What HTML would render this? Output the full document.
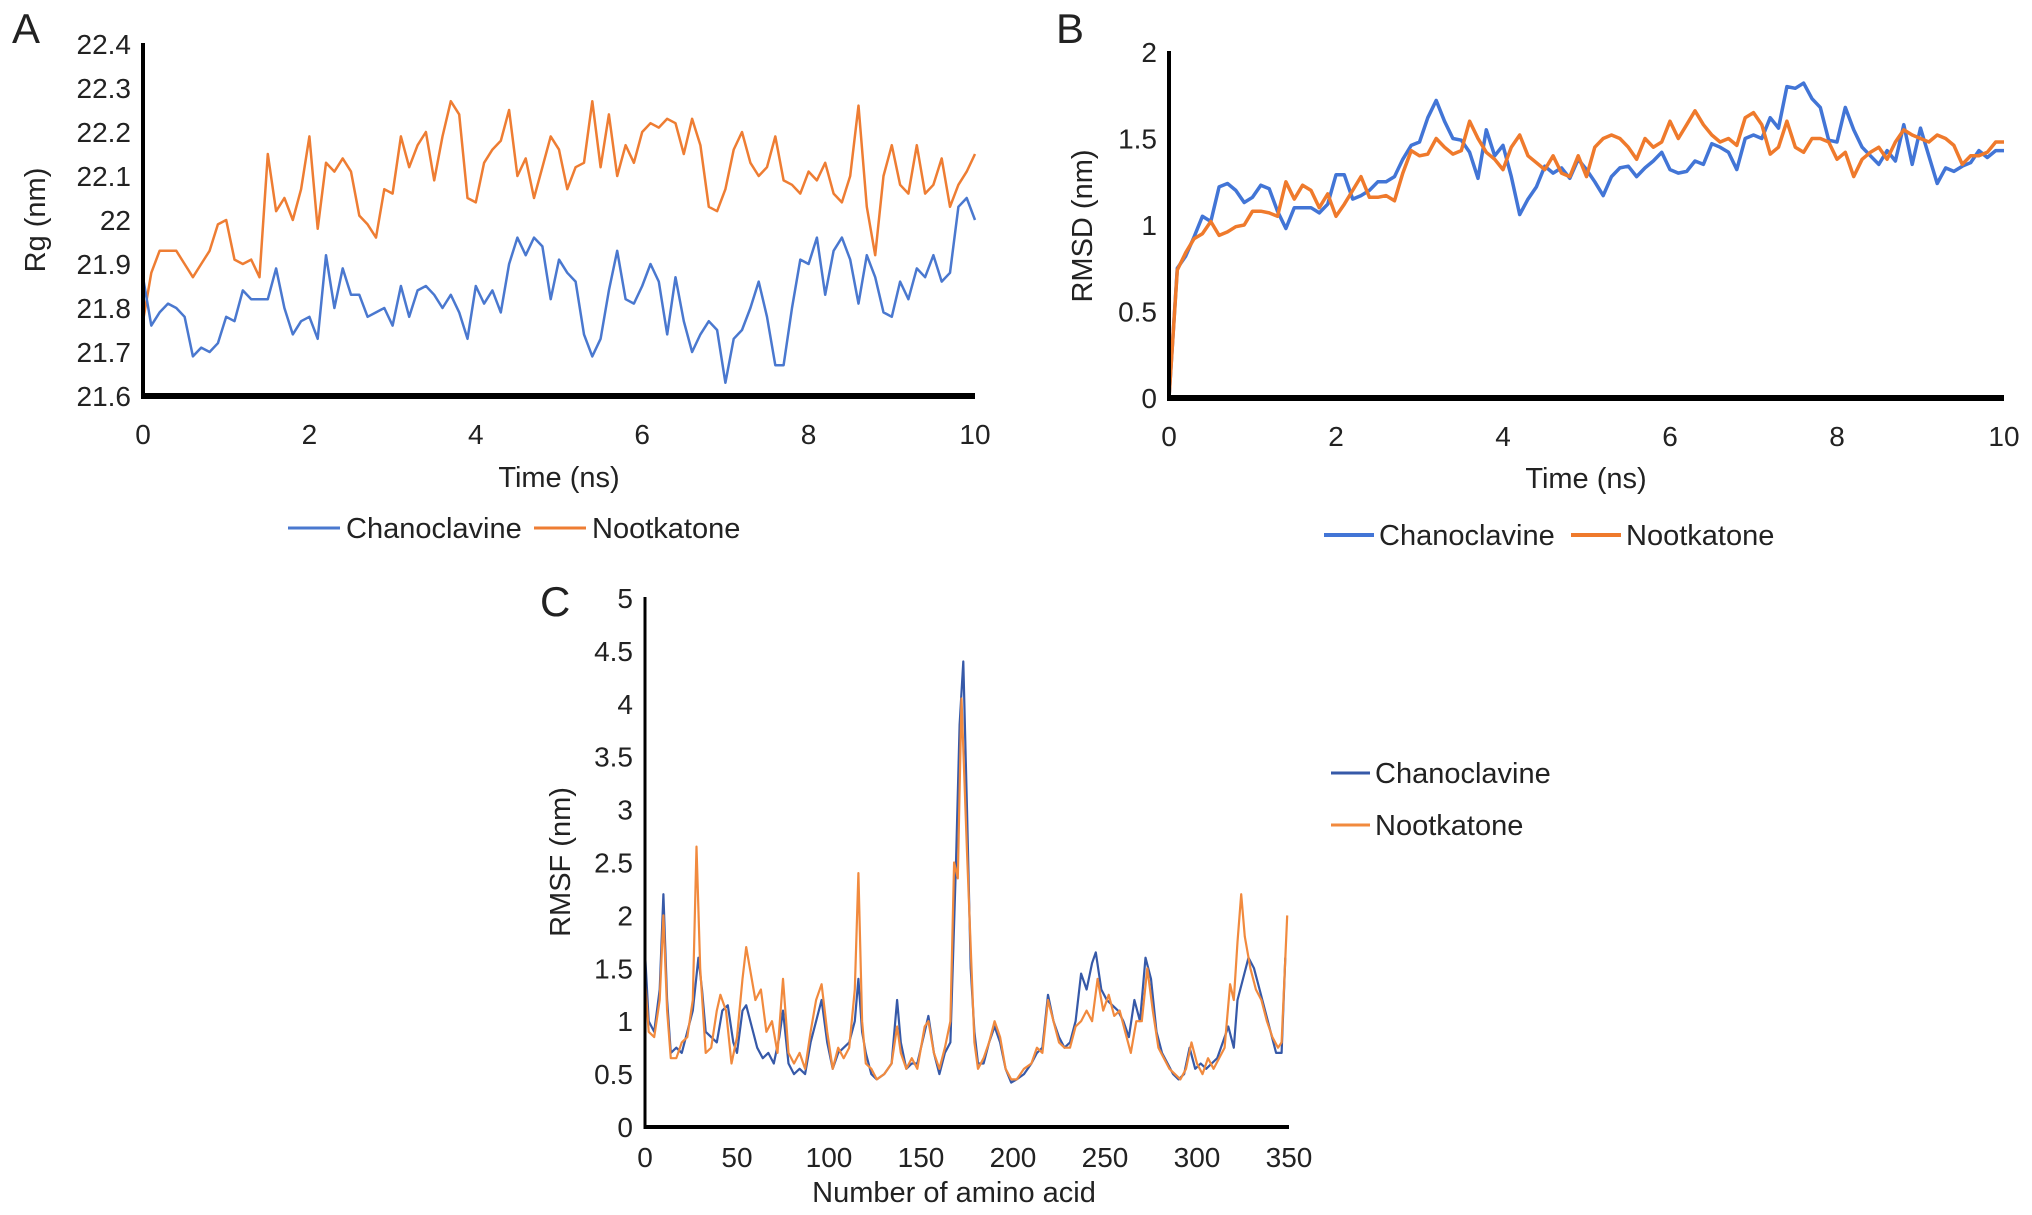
<!DOCTYPE html>
<html><head><meta charset="utf-8"><style>
html,body{margin:0;padding:0;background:#fff;}
svg{display:block;font-family:"Liberation Sans",Arial,sans-serif;}
</style></head><body>
<svg id="fig" width="2032" height="1215" viewBox="0 0 2032 1215" xmlns="http://www.w3.org/2000/svg">
<g id="pA"></g>
<g id="pB"></g>
<g id="pC"></g>
</svg>
<script>
const timeTicks=[0,2,4,6,8,10];
const rgTicks=[21.6,21.7,21.8,21.9,22,22.1,22.2,22.3,22.4];
const rgChano=[21.87,21.76,21.79,21.81,21.80,21.78,21.69,21.71,21.70,21.72,21.78,21.77,21.84,21.82,21.82,21.82,21.89,21.80,21.74,21.77,21.78,21.73,21.92,21.80,21.89,21.83,21.83,21.78,21.79,21.80,21.76,21.85,21.78,21.84,21.85,21.83,21.80,21.83,21.79,21.73,21.85,21.81,21.84,21.79,21.90,21.96,21.92,21.96,21.94,21.82,21.91,21.88,21.86,21.74,21.69,21.73,21.84,21.93,21.82,21.81,21.85,21.90,21.86,21.74,21.87,21.77,21.70,21.74,21.77,21.75,21.63,21.73,21.75,21.80,21.86,21.78,21.67,21.67,21.80,21.91,21.90,21.96,21.83,21.93,21.96,21.91,21.81,21.92,21.87,21.79,21.78,21.86,21.82,21.89,21.87,21.92,21.86,21.88,22.03,22.05,22.00];
const rgNoot=[21.77,21.88,21.93,21.93,21.93,21.90,21.87,21.90,21.93,21.99,22.00,21.91,21.90,21.91,21.87,22.15,22.02,22.05,22.00,22.07,22.19,21.98,22.13,22.11,22.14,22.11,22.01,21.99,21.96,22.07,22.06,22.19,22.12,22.17,22.20,22.09,22.19,22.27,22.24,22.05,22.04,22.13,22.16,22.18,22.25,22.10,22.14,22.05,22.12,22.19,22.16,22.07,22.12,22.13,22.27,22.12,22.24,22.10,22.17,22.13,22.20,22.22,22.21,22.23,22.22,22.15,22.23,22.17,22.03,22.02,22.07,22.16,22.20,22.13,22.10,22.12,22.19,22.09,22.08,22.06,22.11,22.09,22.13,22.06,22.04,22.10,22.26,22.03,21.92,22.10,22.17,22.08,22.06,22.17,22.06,22.08,22.14,22.03,22.08,22.11,22.15];
const rmsdTicks=[0,0.5,1,1.5,2];
const rmsdChano=[0,0.75,0.82,0.93,1.05,1.02,1.22,1.24,1.20,1.13,1.16,1.23,1.21,1.08,0.98,1.10,1.10,1.10,1.07,1.12,1.29,1.29,1.15,1.17,1.20,1.25,1.25,1.28,1.38,1.46,1.48,1.62,1.72,1.60,1.50,1.49,1.42,1.27,1.55,1.40,1.46,1.28,1.06,1.15,1.22,1.34,1.30,1.33,1.27,1.38,1.32,1.25,1.17,1.28,1.33,1.34,1.28,1.33,1.37,1.42,1.32,1.30,1.31,1.37,1.35,1.47,1.45,1.42,1.32,1.50,1.52,1.50,1.62,1.56,1.80,1.79,1.82,1.73,1.68,1.49,1.48,1.68,1.55,1.45,1.40,1.35,1.43,1.37,1.58,1.35,1.56,1.40,1.24,1.33,1.31,1.34,1.36,1.43,1.39,1.43,1.43];
const rmsdNoot=[0,0.74,0.84,0.92,0.95,1.02,0.94,0.96,0.99,1.00,1.08,1.08,1.07,1.05,1.25,1.15,1.23,1.20,1.10,1.18,1.05,1.12,1.20,1.28,1.16,1.16,1.17,1.14,1.30,1.43,1.40,1.41,1.50,1.45,1.41,1.43,1.60,1.50,1.42,1.38,1.32,1.45,1.52,1.40,1.36,1.32,1.40,1.30,1.28,1.40,1.28,1.45,1.50,1.52,1.50,1.45,1.38,1.50,1.45,1.48,1.60,1.50,1.58,1.66,1.58,1.52,1.48,1.50,1.46,1.62,1.65,1.58,1.41,1.45,1.60,1.45,1.42,1.50,1.50,1.48,1.38,1.42,1.28,1.38,1.42,1.45,1.38,1.48,1.55,1.52,1.50,1.48,1.52,1.50,1.46,1.35,1.40,1.40,1.42,1.48,1.48];
const resTicks=[0,50,100,150,200,250,300,350];
const rmsfTicks=[0,0.5,1,1.5,2,2.5,3,3.5,4,4.5,5];
const resChano=[0,2,5,8,10,12,14,17,20,23,26,29,31,33,36,39,42,45,48,50,53,55,58,61,64,67,70,73,75,78,81,84,87,90,93,96,99,102,105,108,111,114,116,118,120,123,126,130,134,137,139,142,145,148,152,154,157,160,163,166,169,171,173,175,177,179,181,184,187,190,193,196,199,202,206,210,213,216,219,222,225,228,231,234,237,240,243,245,248,251,254,257,260,263,266,269,272,275,278,281,284,287,290,293,296,299,302,305,308,311,314,317,320,322,325,328,331,334,337,340,343,346,348];
const rmsfChano=[1.65,1.0,0.9,1.3,2.2,1.2,0.7,0.75,0.7,0.9,1.1,1.6,1.3,0.9,0.85,0.8,1.1,1.15,0.8,0.7,1.1,1.15,0.95,0.75,0.65,0.7,0.6,0.85,1.1,0.6,0.5,0.55,0.5,0.8,1.0,1.2,0.8,0.55,0.7,0.75,0.8,1.0,1.4,0.9,0.7,0.5,0.45,0.5,0.6,1.2,0.8,0.55,0.6,0.6,0.9,1.05,0.7,0.5,0.7,0.8,2.5,3.8,4.4,3.0,1.5,0.9,0.6,0.6,0.8,0.95,0.8,0.55,0.42,0.45,0.5,0.6,0.7,0.75,1.25,1.0,0.85,0.75,0.8,1.0,1.45,1.3,1.55,1.65,1.3,1.2,1.15,1.1,1.0,0.85,1.2,1.0,1.6,1.4,0.9,0.7,0.6,0.5,0.45,0.5,0.75,0.55,0.6,0.55,0.6,0.65,0.8,0.95,0.75,1.2,1.4,1.6,1.5,1.3,1.1,0.9,0.7,0.7,1.6];
const resNoot=[0,2,5,8,10,12,14,17,20,23,26,28,30,33,36,39,41,44,47,50,53,55,57,60,63,66,69,72,75,78,81,84,87,90,93,96,99,102,105,108,111,114,116,118,120,123,126,130,134,137,139,142,145,148,152,154,157,160,163,166,168,170,172,175,177,179,181,184,187,190,193,196,199,202,206,210,213,216,219,222,225,228,231,234,237,240,243,246,249,252,255,258,261,264,267,270,273,276,279,282,285,288,291,294,297,300,303,306,309,312,315,318,320,322,324,326,329,332,335,338,341,344,346,349];
const rmsfNoot=[1.4,0.9,0.85,1.2,2.0,1.1,0.65,0.65,0.8,0.85,1.2,2.65,1.5,0.7,0.75,1.1,1.25,1.1,0.6,0.85,1.4,1.7,1.5,1.2,1.3,0.9,1.0,0.7,1.4,0.7,0.6,0.7,0.55,0.9,1.2,1.35,0.9,0.55,0.75,0.65,0.75,1.3,2.4,1.0,0.6,0.55,0.45,0.5,0.6,0.95,0.7,0.55,0.65,0.55,0.95,1.0,0.7,0.55,0.75,1.0,2.5,2.35,4.05,2.6,1.7,0.8,0.55,0.65,0.8,1.0,0.85,0.55,0.45,0.45,0.55,0.6,0.75,0.7,1.2,1.0,0.8,0.75,0.75,0.95,1.0,1.1,1.0,1.4,1.1,1.25,1.05,1.1,0.9,0.7,1.0,1.0,1.5,1.1,0.75,0.65,0.55,0.5,0.45,0.55,0.8,0.6,0.5,0.65,0.55,0.65,0.75,1.35,1.2,1.75,2.2,1.8,1.5,1.3,1.2,1.0,0.85,0.75,0.8,2.0];

const NS='http://www.w3.org/2000/svg';
function mk(parent,tag,attrs,text){const e=document.createElementNS(NS,tag);for(const k in attrs)e.setAttribute(k,attrs[k]);if(text!==undefined)e.textContent=text;parent.appendChild(e);return e;}
function lin(d0,d1,r0,r1){return v=>r0+(v-d0)/(d1-d0)*(r1-r0);}

function chart(g,cfg){
  const X=lin(cfg.xd[0],cfg.xd[1],cfg.x0,cfg.x1), Y=lin(cfg.yd[0],cfg.yd[1],cfg.y0,cfg.y1);
  cfg.series.forEach(s=>{
    const d=s.y.map((v,i)=>(i?'L':'M')+X(s.x[i]).toFixed(1)+','+Y(v).toFixed(1)).join('');
    const p=mk(g,'path',{d:d,fill:'none',stroke:s.color,'stroke-width':s.w,'stroke-linejoin':'round'});
    
    
  });
  const ya=mk(g,'line',{x1:cfg.x0,y1:cfg.y1-1,x2:cfg.x0,y2:cfg.y0+cfg.bw/2,stroke:'#000','stroke-width':cfg.lw});
  
  
  const xa=mk(g,'line',{x1:cfg.x0-cfg.lw/2,y1:cfg.y0,x2:cfg.x1,y2:cfg.y0,stroke:'#000','stroke-width':cfg.bw});
  
  
  cfg.yt.forEach(v=>{const t=mk(g,'text',{x:cfg.x0-12,y:Y(v)+10,'text-anchor':'end','font-size':cfg.fs,fill:'#222'},String(v));
    
    });
  cfg.xt.forEach(v=>{const t=mk(g,'text',{x:X(v),y:cfg.y0+cfg.xly,'text-anchor':'middle','font-size':cfg.fs,fill:'#222'},String(v));
    
    });
}
function txt(g,name,attrs,s){const t=mk(g,'text',Object.assign({fill:'#222'},attrs),s);return t;}
function legLine(g,name,x1,x2,y,c,w){const l=mk(g,'line',{x1:x1,x2:x2,y1:y,y2:y,stroke:c,'stroke-width':w});}
const tA=rgChano.map((_,i)=>i/10), tB=rmsdChano.map((_,i)=>i/10);
const BLUE='#4a78cf', ORANGE='#ee7d33';

const gA=document.getElementById('pA');
chart(gA,{xd:[0,10],yd:[21.6,22.4],x0:143,x1:975,y0:396,y1:44,lw:4,bw:6,fs:28,xly:48,xt:timeTicks,yt:rgTicks,
 series:[{name:'rg-nootkatone-line',x:tA,y:rgNoot,color:ORANGE,w:2.5},{name:'rg-chanoclavine-line',x:tA,y:rgChano,color:BLUE,w:2.5}]});
txt(gA,'panel-label-a',{x:12,y:43,'font-size':42},'A');
txt(gA,'x-axis-title',{x:559,y:487,'text-anchor':'middle','font-size':29},'Time (ns)');
txt(gA,'y-axis-title',{x:0,y:0,'text-anchor':'middle','font-size':29,transform:'translate(45,220) rotate(-90)'},'Rg (nm)');
legLine(gA,'legend-chanoclavine-swatch',288,340,528,BLUE,3);
txt(gA,'legend-chanoclavine',{x:346,y:538,'font-size':29},'Chanoclavine');
legLine(gA,'legend-nootkatone-swatch',534,586,528,ORANGE,3);
txt(gA,'legend-nootkatone',{x:592,y:538,'font-size':29},'Nootkatone');

const gB=document.getElementById('pB');
chart(gB,{xd:[0,10],yd:[0,2],x0:1169,x1:2004,y0:398,y1:52,lw:4,bw:6,fs:28,xly:48,xt:timeTicks,yt:rmsdTicks,
 series:[{name:'rmsd-chanoclavine-line',x:tB,y:rmsdChano,color:'#4275d6',w:3.5},{name:'rmsd-nootkatone-line',x:tB,y:rmsdNoot,color:'#ef7a2c',w:3.5}]});
txt(gB,'panel-label-b',{x:1056,y:43,'font-size':42},'B');
txt(gB,'x-axis-title',{x:1586,y:488,'text-anchor':'middle','font-size':29},'Time (ns)');
txt(gB,'y-axis-title',{x:0,y:0,'text-anchor':'middle','font-size':29,transform:'translate(1092,226) rotate(-90)'},'RMSD (nm)');
legLine(gB,'legend-chanoclavine-swatch',1324,1374,535,'#4275d6',4);
txt(gB,'legend-chanoclavine',{x:1379,y:545,'font-size':29},'Chanoclavine');
legLine(gB,'legend-nootkatone-swatch',1571,1621,535,'#ef7a2c',4);
txt(gB,'legend-nootkatone',{x:1626,y:545,'font-size':29},'Nootkatone');

const gC=document.getElementById('pC');
chart(gC,{xd:[0,350],yd:[0,5],x0:645,x1:1289,y0:1127,y1:598,lw:3,bw:4,fs:28,xly:40,xt:resTicks,yt:rmsfTicks,
 series:[{name:'rmsf-chanoclavine-line',x:resChano,y:rmsfChano,color:'#3659a8',w:2.2},{name:'rmsf-nootkatone-line',x:resNoot,y:rmsfNoot,color:'#f18a3e',w:2.2}]});
txt(gC,'panel-label-c',{x:540,y:616,'font-size':42},'C');
txt(gC,'x-axis-title',{x:954,y:1202,'text-anchor':'middle','font-size':29},'Number of amino acid');
txt(gC,'y-axis-title',{x:0,y:0,'text-anchor':'middle','font-size':29,transform:'translate(570,862) rotate(-90)'},'RMSF (nm)');
legLine(gC,'legend-chanoclavine-swatch',1331,1370,773,'#3659a8',3);
txt(gC,'legend-chanoclavine',{x:1375,y:783,'font-size':29},'Chanoclavine');
legLine(gC,'legend-nootkatone-swatch',1331,1370,825,'#f18a3e',3);
txt(gC,'legend-nootkatone',{x:1375,y:835,'font-size':29},'Nootkatone');
</script>
</body></html>
